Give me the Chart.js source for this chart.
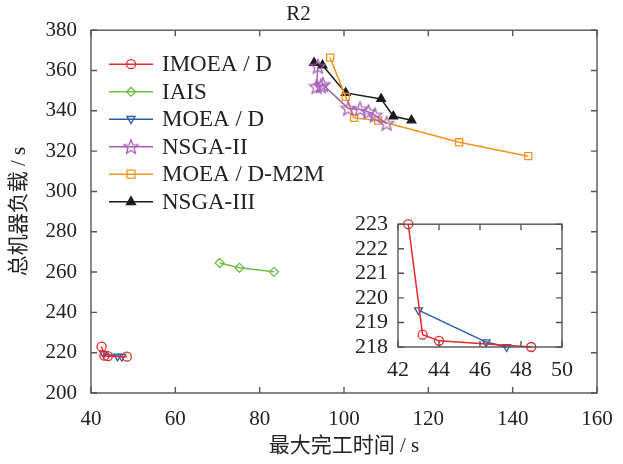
<!DOCTYPE html>
<html>
<head>
<meta charset="utf-8">
<script src="https://cdn.jsdelivr.net/npm/chart.js@4/dist/chart.umd.min.js"></script>
<style>
  body { margin: 0; background: #fff; }
  #wrap { position: relative; width: 623px; height: 464px; }
  #mainChart { position: absolute; left: 0; top: 0; }
  #insetChart { position: absolute; left: 350px; top: 209px; background: #fff; }
</style>
</head>
<body>
<div id="wrap">
  <canvas id="mainChart" width="623" height="464"></canvas>
  <canvas id="insetChart" width="225" height="169"></canvas>
</div>
<script>
// values (makespan / s, total machine load / s)
const imoeadX = [42.5, 43.2, 44.0, 48.5];
const imoeadY = [223, 218.5, 218.25, 218.0];
const iaisX = [70.5, 75.2, 83.4];
const iaisY = [264.5, 262.1, 260.1];
const moeadX = [43.0, 46.3, 47.3];
const moeadY = [219.5, 218.2, 218.0];
const nsga2X = [93.8, 93.5, 94.5, 95.0, 101.0, 103.8, 105.8, 107.3, 110.1];
const nsga2Y = [362.0, 352.0, 352.3, 353.0, 341.2, 340.8, 339.5, 337.8, 333.7];
const m2mX = [96.7, 100.4, 102.4, 108.1, 127.3, 143.7];
const m2mY = [366.4, 346.9, 336.5, 335.2, 324.4, 317.5];
const nsga3X = [92.9, 94.9, 100.4, 108.8, 111.7, 116.0];
const nsga3Y = [363.8, 362.6, 348.9, 345.9, 337.3, 335.3];

const mainXTicks = [40, 60, 80, 100, 120, 140, 160];
const mainYTicks = [200, 220, 240, 260, 280, 300, 320, 340, 360, 380];
const insetXTicks = [42, 44, 46, 48, 50];
const insetYTicks = [218, 219, 220, 221, 222, 223];

const serif = "'Liberation Serif', 'Times New Roman', serif";
const cjk = "'Liberation Serif', 'Noto Sans CJK SC', serif";

// 5-point star marker for NSGA-II
function makeStar(color) {
  const c = document.createElement('canvas');
  c.width = 18; c.height = 18;
  const g = c.getContext('2d');
  g.strokeStyle = color;
  g.lineWidth = 1.3;
  g.beginPath();
  for (let i = 0; i < 10; i++) {
    const r = i % 2 === 0 ? 7.5 : 3.2;
    const a = -Math.PI / 2 + i * Math.PI / 5;
    const px = 9 + r * Math.cos(a), py = 9.5 + r * Math.sin(a);
    if (i === 0) g.moveTo(px, py); else g.lineTo(px, py);
  }
  g.closePath();
  g.stroke();
  return c;
}
const starImg = makeStar('#a55fb5');

function pts(xs, ys) {
  return xs.map((x, i) => ({ x: x, y: ys[i] }));
}

function series(label, xs, ys, color, style, opts) {
  return Object.assign({
    label: label,
    data: pts(xs, ys),
    showLine: true,
    borderColor: color,
    borderWidth: 1.5,
    pointStyle: style,
    pointRadius: 4.5,
    pointBorderColor: color,
    pointBackgroundColor: 'rgba(0,0,0,0)',
    pointBorderWidth: 1.3,
    clip: false
  }, opts || {});
}

function allSeries() {
  return [
    series('IMOEA / D', imoeadX, imoeadY, '#e8262b', 'circle'),
    series('IAIS', iaisX, iaisY, '#6fbe46', 'rectRot'),
    series('MOEA / D', moeadX, moeadY, '#2a5ba8', 'triangle', { pointRotation: 180 }),
    series('NSGA-II', nsga2X, nsga2Y, '#a55fb5', starImg),
    series('MOEA / D-M2M', m2mX, m2mY, '#f7941e', 'rect', { pointRadius: 5 }),
    series('NSGA-III', nsga3X, nsga3Y, '#1a1a1a', 'triangle', { pointBackgroundColor: '#1a1a1a', pointRadius: 5 })
  ];
}

// box around the plot + inward ticks on all four sides
const boxTicks = {
  id: 'boxTicks',
  afterDatasetsDraw(chart, args, opts) {
    const { ctx, chartArea: a } = chart;
    const len = opts.len || 6;
    ctx.save();
    ctx.strokeStyle = '#555';
    ctx.lineWidth = 1.4;
    ctx.strokeRect(a.left, a.top, a.right - a.left, a.bottom - a.top);
    ctx.beginPath();
    chart.scales.x.ticks.forEach(t => {
      const px = chart.scales.x.getPixelForValue(t.value);
      ctx.moveTo(px, a.bottom); ctx.lineTo(px, a.bottom - len);
      ctx.moveTo(px, a.top); ctx.lineTo(px, a.top + len);
    });
    chart.scales.y.ticks.forEach(t => {
      const py = chart.scales.y.getPixelForValue(t.value);
      ctx.moveTo(a.left, py); ctx.lineTo(a.left + len, py);
      ctx.moveTo(a.right, py); ctx.lineTo(a.right - len, py);
    });
    ctx.stroke();
    ctx.restore();
  }
};

function drawMarker(ctx, ds, x, y) {
  const r = ds.pointRadius;
  ctx.save();
  ctx.strokeStyle = ds.pointBorderColor;
  ctx.fillStyle = ds.pointBackgroundColor;
  ctx.lineWidth = ds.pointBorderWidth;
  ctx.beginPath();
  const s = ds.pointStyle;
  if (typeof s !== 'string') {
    ctx.drawImage(s, x - s.width / 2, y - s.height / 2);
    ctx.restore();
    return;
  }
  if (s === 'circle') {
    ctx.arc(x, y, r, 0, Math.PI * 2);
  } else if (s === 'rectRot') {
    ctx.moveTo(x, y - r); ctx.lineTo(x + r, y); ctx.lineTo(x, y + r); ctx.lineTo(x - r, y); ctx.closePath();
  } else if (s === 'rect') {
    const h = r * 0.8;
    ctx.rect(x - h, y - h, h * 2, h * 2);
  } else if (s === 'triangle') {
    const dir = ds.pointRotation === 180 ? -1 : 1;
    ctx.moveTo(x, y - dir * r);
    ctx.lineTo(x + r * 0.9, y + dir * r * 0.6);
    ctx.lineTo(x - r * 0.9, y + dir * r * 0.6);
    ctx.closePath();
  }
  ctx.fill();
  ctx.stroke();
  ctx.restore();
}

// legend drawn inside the plot, upper left
const innerLegend = {
  id: 'innerLegend',
  afterDraw(chart) {
    const ctx = chart.ctx;
    const a = chart.chartArea;
    chart.data.datasets.forEach((ds, i) => {
      const y = a.top + 34 + i * 27.5;
      const x0 = a.left + 18, x1 = a.left + 62;
      ctx.save();
      ctx.strokeStyle = ds.borderColor;
      ctx.lineWidth = ds.borderWidth;
      ctx.beginPath();
      ctx.moveTo(x0, y); ctx.lineTo(x1, y);
      ctx.stroke();
      ctx.restore();
      drawMarker(ctx, ds, (x0 + x1) / 2, y);
      ctx.save();
      ctx.fillStyle = '#222';
      ctx.font = '23px ' + serif;
      ctx.textBaseline = 'middle';
      ctx.fillText(ds.label, x1 + 9, y + 1);
      ctx.restore();
    });
  }
};

function fixedTicks(list) {
  return scale => { scale.ticks = list.map(v => ({ value: v })); };
}

new Chart(document.getElementById('mainChart'), {
  type: 'scatter',
  data: { datasets: allSeries() },
  options: {
    responsive: false,
    animation: false,
    layout: { padding: { left: 0, right: 26, top: 0, bottom: 0 } },
    plugins: {
      legend: { display: false },
      tooltip: { enabled: false },
      title: {
        display: true,
        text: 'R2',
        color: '#222',
        font: { family: serif, size: 21, weight: 'normal' },
        padding: { top: 2, bottom: 3 }
      },
      boxTicks: { len: 6 }
    },
    scales: {
      x: {
        type: 'linear',
        min: 40, max: 160,
        afterBuildTicks: fixedTicks(mainXTicks),
        afterFit: s => { s.height = 71; },
        grid: { display: false },
        border: { display: false },
        ticks: { color: '#222', padding: 6, autoSkip: false, font: { family: serif, size: 21 } },
        title: {
          display: true,
          text: '最大完工时间 / s',
          color: '#222',
          font: { family: cjk, size: 21 },
          padding: { top: 0, bottom: 5 }
        }
      },
      y: {
        type: 'linear',
        min: 200, max: 380,
        afterBuildTicks: fixedTicks(mainYTicks),
        afterFit: s => { s.width = 91; },
        grid: { display: false },
        border: { display: false },
        ticks: { color: '#222', padding: 6, autoSkip: false, font: { family: serif, size: 21 } },
        title: {
          display: true,
          text: '总机器负载 / s',
          color: '#222',
          font: { family: cjk, size: 21 },
          padding: { top: 7, bottom: 0 }
        }
      }
    }
  },
  plugins: [boxTicks, innerLegend]
});

// zoomed inset of the lower-left cluster
new Chart(document.getElementById('insetChart'), {
  type: 'scatter',
  data: { datasets: allSeries().filter(d => d.label === 'IMOEA / D' || d.label === 'MOEA / D') },
  options: {
    responsive: false,
    animation: false,
    layout: { padding: { left: 0, right: 12, top: 14, bottom: 0 } },
    plugins: {
      legend: { display: false },
      tooltip: { enabled: false },
      boxTicks: { len: 6 }
    },
    scales: {
      x: {
        type: 'linear',
        min: 42, max: 50,
        afterBuildTicks: fixedTicks(insetXTicks),
        afterFit: s => { s.height = 31; },
        grid: { display: false },
        border: { display: false },
        ticks: { color: '#222', padding: 2, autoSkip: false, font: { family: serif, size: 22 } }
      },
      y: {
        type: 'linear',
        min: 218, max: 223,
        afterBuildTicks: fixedTicks(insetYTicks),
        afterFit: s => { s.width = 48; },
        grid: { display: false },
        border: { display: false },
        ticks: { color: '#222', padding: 2, autoSkip: false, font: { family: serif, size: 22 } }
      }
    }
  },
  plugins: [boxTicks]
});
</script>
</body>
</html>
